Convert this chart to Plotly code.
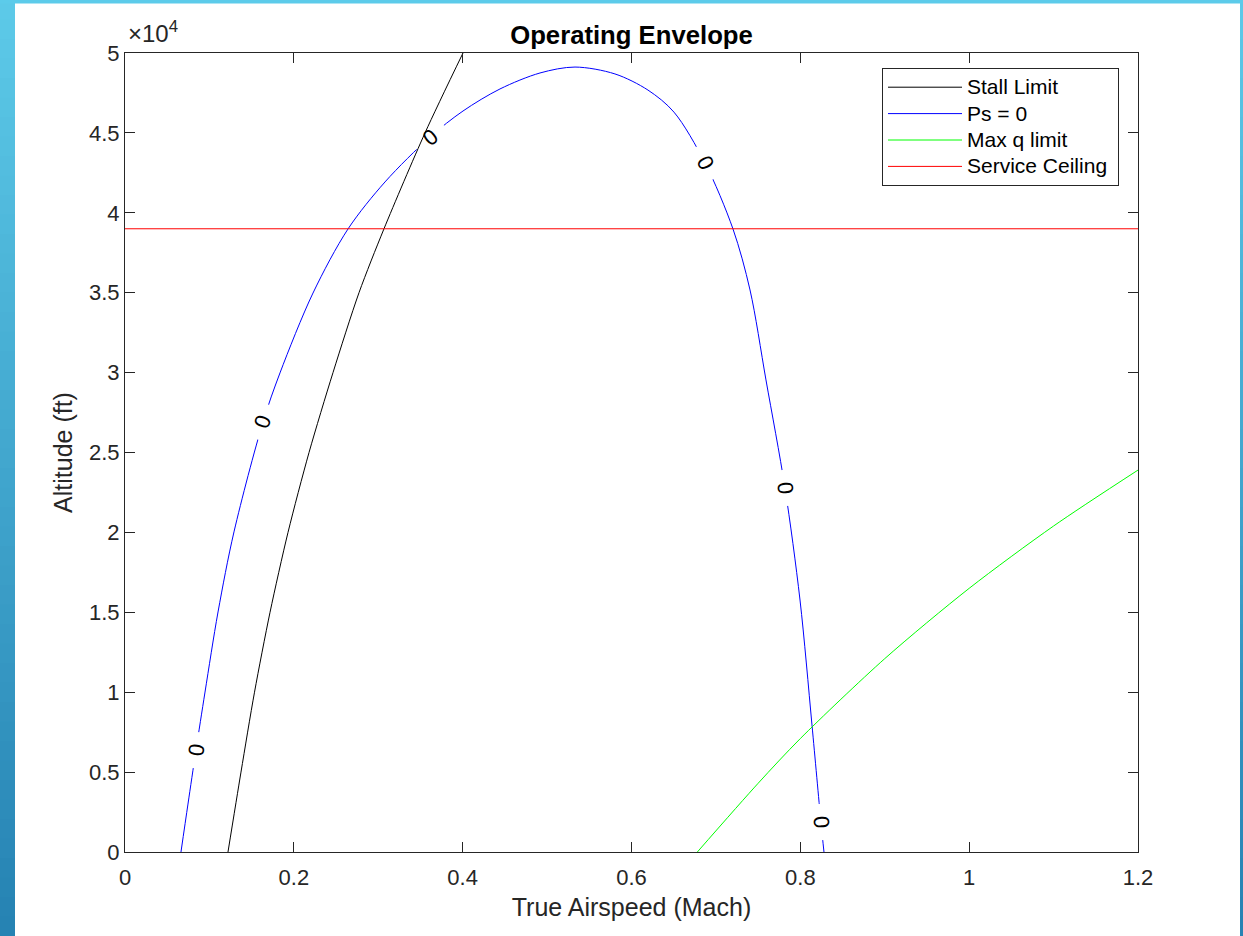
import plotly.graph_objects as go

# ---------------- data ----------------
# Stall limit (Mach, altitude ft)
stall_mach = [0.1220, 0.1374, 0.1534, 0.1718, 0.1931, 0.2180, 0.2464, 0.2772, 0.3068, 0.3554, 0.4004]
stall_alt = [0, 5000, 10000, 15000, 20000, 25000, 30000, 35000, 39000, 45000, 50000]

# Ps = 0 contour
ps_mach = [0.0663, 0.0746, 0.0841, 0.0948, 0.1102, 0.1291, 0.1635, 0.1836, 0.2227, 0.2642,
           0.3080, 0.3613, 0.4004, 0.4442, 0.4916, 0.5331, 0.5804, 0.6195, 0.6503, 0.6871,
           0.7202, 0.7404, 0.7593, 0.7818, 0.7996, 0.8138, 0.8244, 0.8280]
ps_alt = [0, 3000, 6380, 10010, 15020, 20030, 26910, 29980, 34980, 38990,
          41930, 44740, 46370, 47750, 48750, 49120, 48690, 47680, 46300, 43120,
          38990, 35170, 29540, 22780, 15770, 7950, 1880, 0]

# Max q limit
maxq_mach = [0.678, 0.75, 0.80, 0.90, 1.00, 1.10, 1.20]
maxq_alt = [0, 4300, 7100, 12100, 16500, 20400, 23900]

# Service ceiling
ceiling_alt = 39000
ceiling_mach = [0, 1.2]

# Contour labels on Ps = 0
lab_mach = [0.0841, 0.1635, 0.3613, 0.6871, 0.7818, 0.8244]
lab_alt = [6380, 26910, 44740, 43120, 22780, 1880]
lab_text = ["0", "0", "0", "0", "0", "0"]
lab_angle = [-82, -70, -40, 63, 84, 86]

x_ticks = [0, 0.2, 0.4, 0.6, 0.8, 1.0, 1.2]
x_ticktext = ["0", "0.2", "0.4", "0.6", "0.8", "1", "1.2"]
y_ticks = [0, 5000, 10000, 15000, 20000, 25000, 30000, 35000, 40000, 45000, 50000]
y_ticktext = ["0", "0.5", "1", "1.5", "2", "2.5", "3", "3.5", "4", "4.5", "5"]

# ---------------- layout geometry ----------------
W, H = 1243, 936
L, R, T, B = 125, 1138, 53, 852
PW, PH = R - L, B - T
FONT = "Liberation Sans, Arial, Helvetica, sans-serif"
AX = "#262626"


def px(xp):
    return (xp - L) / PW


def py(yp):
    return (B - yp) / PH


def leg(name):
    return '<span style="font-size:21px">%s</span>' % name


fig = go.Figure()

fig.add_trace(go.Scatter(x=ps_mach, y=ps_alt, mode="lines", name=leg("Ps = 0"),
                         line=dict(color="#0000ff", width=1, shape="spline", smoothing=0.9),
                         legendrank=2))
# gaps in the contour line under the labels
fig.add_trace(go.Scatter(x=lab_mach, y=lab_alt, mode="markers", showlegend=False,
                         hoverinfo="skip",
                         marker=dict(symbol="line-ew", size=26, angle=lab_angle,
                                     line=dict(color="white", width=5))))
fig.add_trace(go.Scatter(x=stall_mach, y=stall_alt, mode="lines", name=leg("Stall Limit"),
                         line=dict(color="#000000", width=1, shape="spline", smoothing=0.8),
                         legendrank=1))
fig.add_trace(go.Scatter(x=maxq_mach, y=maxq_alt, mode="lines", name=leg("Max q limit"),
                         line=dict(color="#00ff00", width=1, shape="spline", smoothing=0.8),
                         legendrank=3))
fig.add_trace(go.Scatter(x=ceiling_mach, y=[ceiling_alt, ceiling_alt], mode="lines",
                         name=leg("Service Ceiling&nbsp;"), line=dict(color="#ff0000", width=1),
                         legendrank=4))

annotations = []
for xm, ya, t, a in zip(lab_mach, lab_alt, lab_text, lab_angle):
    annotations.append(dict(x=xm, y=ya, xref="x", yref="y", text=t, showarrow=False,
                            textangle=a, font=dict(family=FONT, size=22, color="#000000")))

# exponent label
annotations.append(dict(x=px(126), y=py(49), xref="paper", yref="paper",
                        text="×10<sup>4</sup>", showarrow=False, xanchor="left",
                        yanchor="bottom", font=dict(family=FONT, size=24, color=AX)))

# screenshot frame decoration (blue gradient edges)
shapes = []
n = 48
top_c = (92, 201, 232)
bot_c = (38, 131, 179)
for i in range(n):
    f = i / (n - 1)
    c = tuple(round(top_c[k] + (bot_c[k] - top_c[k]) * f) for k in range(3))
    col = "rgb(%d,%d,%d)" % c
    y0 = H * i / n
    y1 = H * (i + 1) / n + 1
    for x0, x1 in ((0, 15), (1240, 1243)):
        shapes.append(dict(type="rect", xref="paper", yref="paper",
                           x0=px(x0), x1=px(x1), y0=py(y1), y1=py(y0),
                           line=dict(width=0), fillcolor=col, layer="below"))
shapes.append(dict(type="rect", xref="paper", yref="paper", x0=px(0), x1=px(W),
                   y0=py(3.5), y1=py(0), line=dict(width=0),
                   fillcolor="rgb(92,203,234)", layer="below"))

axis_common = dict(showgrid=False, zeroline=False, showline=True, linecolor=AX,
                   linewidth=1, mirror="allticks", ticks="inside", ticklen=10,
                   tickwidth=1, tickcolor=AX,
                   tickfont=dict(family=FONT, size=22, color=AX))

fig.update_layout(
    width=W, height=H,
    margin=dict(l=L, r=W - R, t=T, b=H - B, pad=0),
    paper_bgcolor="white", plot_bgcolor="white",
    font=dict(family=FONT, color=AX),
    title=dict(text="<b>Operating Envelope</b>", xref="paper", x=0.5, xanchor="center",
               y=1 - 35 / H, yanchor="middle", yref="container",
               font=dict(family=FONT, size=25.7, color="#000000")),
    xaxis=dict(range=[0, 1.2], tickvals=x_ticks, ticktext=x_ticktext,
               ticklabelstandoff=6,
               title=dict(text="True Airspeed (Mach)", standoff=9,
                          font=dict(family=FONT, size=25, color=AX)),
               **axis_common),
    yaxis=dict(range=[0, 50000], tickvals=y_ticks, ticktext=y_ticktext,
               title=dict(text="Altitude (ft)", standoff=9,
                          font=dict(family=FONT, size=25, color=AX)),
               **axis_common),
    legend=dict(x=px(1119), y=py(68), xanchor="right", yanchor="top",
                bgcolor="white", bordercolor=AX, borderwidth=1,
                font=dict(family=FONT, size=18, color="#000000"),
                itemwidth=74, tracegroupgap=0),
    annotations=annotations,
    shapes=shapes,
)

fig.write_html("out.html",
               config={"displayModeBar": False},
               post_script="document.body.style.margin='0';"
                           "document.body.style.padding='0';"
                           "document.body.style.overflow='hidden';")
